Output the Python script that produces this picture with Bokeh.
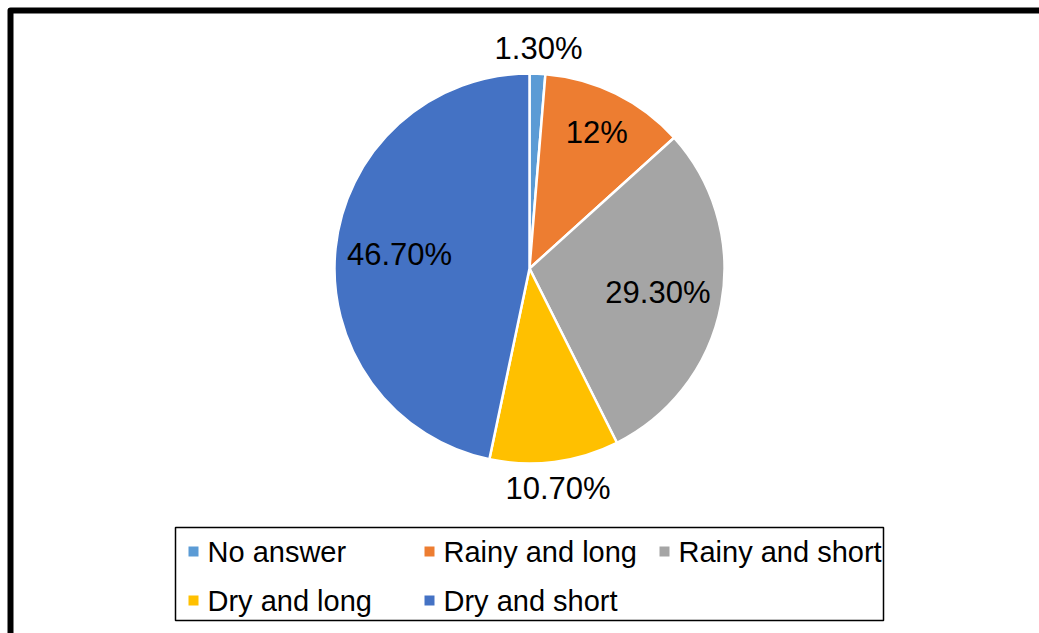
import math
from bokeh.plotting import figure
from bokeh.models import Range1d, ColumnDataSource
from bokeh.core.properties import value
from bokeh.embed import file_html
from bokeh.resources import INLINE

# Survey answers (percent of respondents)
categories = ["No answer", "Rainy and long", "Rainy and short", "Dry and long", "Dry and short"]
shares = [1.3, 12.0, 29.3, 10.7, 46.7]
share_labels = ["1.30%", "12%", "29.30%", "10.70%", "46.70%"]
colors = ["#5B9BD5", "#ED7D31", "#A5A5A5", "#FFC000", "#4472C4"]

W, H = 1039, 633
FONT = "Liberation Sans"

def fy(y):
    # page coordinates measured from the top edge
    return H - y

p = figure(width=W, height=H, x_range=Range1d(0, W), y_range=Range1d(0, H),
           x_axis_type=None, y_axis_type=None, toolbar_location=None,
           output_backend="svg", min_border=0, outline_line_color=None,
           background_fill_color="white", border_fill_color="white")
p.grid.visible = False

# outer frame (open to the right and bottom)
p.quad(left=[10], right=[W + 20], top=[fy(10)], bottom=[-20],
       fill_color=None, line_color="black", line_width=6, line_join="round")

# pie, starting at 12 o'clock and running clockwise
cx, cy, R = 529, fy(268), 195
total = sum(shares)
starts, ends, mids = [], [], []
acc = 0.0
for s in shares:
    a0 = math.pi / 2 - 2 * math.pi * acc / total
    acc += s
    a1 = math.pi / 2 - 2 * math.pi * acc / total
    starts.append(a0)
    ends.append(a1)
    mids.append((a0 + a1) / 2)

src = ColumnDataSource(dict(start=starts, end=ends, color=colors, cat=categories))
p.wedge(x=cx, y=cy, radius=R, start_angle="start", end_angle="end",
        direction="clock", fill_color="color", line_color="white",
        line_width=2.5, source=src)

# data labels: small slices sit outside the pie
label_r = [1.13, 0.78, 0.67, 1.14, 0.67]
lx = [cx + R * f * math.cos(m) for f, m in zip(label_r, mids)]
ly = [cy + R * f * math.sin(m) for f, m in zip(label_r, mids)]
p.text(x=lx, y=ly, text=share_labels, text_font=value(FONT),
       text_font_size="31px", text_align="center", text_baseline="middle",
       text_color="black")

# legend box
p.quad(left=[175], right=[883], top=[fy(527)], bottom=[fy(620)],
       fill_color="white", line_color="black", line_width=1.5)
mark_x = [193, 429, 664, 193, 429]
row_y = [551, 551, 551, 600, 600]
p.rect(x=mark_x, y=[fy(v) for v in row_y], width=10, height=10,
       fill_color=colors, line_color=None)
p.text(x=[m + 14 for m in mark_x], y=[fy(v) for v in row_y], text=categories,
       text_font=value(FONT), text_font_size="29px", text_align="left",
       text_baseline="middle", text_color="black")

open("out.html", "w").write(file_html(p, INLINE))
